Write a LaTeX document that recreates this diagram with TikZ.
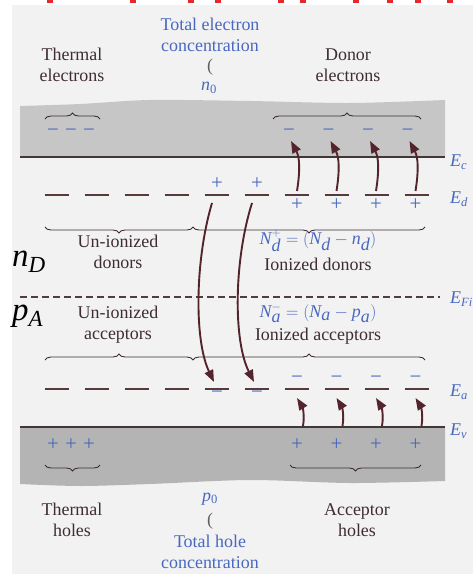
\documentclass[tikz,border=0pt]{standalone}
\usepackage{fontspec}
\setmainfont{Liberation Serif}
\usetikzlibrary{decorations.pathreplacing,arrows.meta}
\definecolor{txtblue}{RGB}{72,104,192}
\definecolor{txtdark}{RGB}{62,44,48}
\definecolor{lvl}{RGB}{88,58,60}
\definecolor{arr}{RGB}{84,36,44}
\definecolor{bandline}{RGB}{66,54,54}
\definecolor{cband}{RGB}{198,198,198}
\definecolor{vband}{RGB}{180,180,180}
\definecolor{page}{RGB}{242,242,242}
\definecolor{redmark}{RGB}{230,40,40}
\newcommand{\mi}[1]{\textit{#1}}
\tikzset{
  lbl/.style={font=\fontsize{18}{21}\selectfont, inner sep=0pt, align=center},
  dark/.style={lbl, text=txtdark},
  bluet/.style={lbl, text=txtblue},
  elabel/.style={lbl, text=txtblue, anchor=west},
  big/.style={font=\fontsize{33}{35}\selectfont, inner sep=0pt, anchor=west, text=black},
  sign/.style={font=\fontsize{21}{21}\selectfont, inner sep=0pt, text=txtblue},
  paren/.style={font=\fontsize{18}{18}\selectfont, inner sep=0pt, text=gray!75!black},
  bracedown/.style={draw=txtdark, line width=0.9bp, decorate, decoration={brace, amplitude=6bp}},
  braceup/.style={draw=txtdark, line width=0.9bp, decorate, decoration={brace, amplitude=6bp}},
  level/.style={draw=lvl, line width=1.8bp},
  edge/.style={draw=bandline, line width=2.2bp},
  harrow/.style={draw=arr, line width=1.9bp, -{Triangle[length=12bp,width=9bp]}},
}
\begin{document}
\begin{tikzpicture}[x=1bp,y=-1bp]
\useasboundingbox (0,0) rectangle (473,574);
\fill[white] (0,0) rectangle (473,574);
\fill[page] (12,5) rectangle (473,574);
% red cut-off marks at top
\foreach \x in {50,133,191,218,281,303,356,390,418,450}
  \fill[redmark] (\x-3,0) rectangle (\x+3,3);
% conduction band
\fill[cband] plot[smooth] coordinates {(20,106) (80,104) (150,100) (250,101) (350,103) (445,100)}
  -- (445,157) -- (20,157) -- cycle;
\coordinate (ecL) at (20,157); \coordinate (ecR) at (445,157);
\draw[edge] (ecL) -- (ecR);
% valence band
\fill[vband] (20,427) -- (445,427) -- plot[smooth] coordinates {(445,481) (350,483) (250,480) (150,484) (80,486) (20,484)} -- cycle;
\coordinate (evL) at (20,427); \coordinate (evR) at (445,427);
\draw[edge] (evL) -- (evR);
% Fermi level
\coordinate (fiL) at (20,297); \coordinate (fiR) at (440,297);
\draw[draw=lvl, line width=1.7bp, dash pattern=on 7bp off 4bp] (fiL) -- (fiR);
% donor and acceptor levels
\foreach \i in {0,...,9}{
  \coordinate (dL\i) at (45+40*\i,195); \coordinate (dR\i) at (69+40*\i,195);
  \draw[level] (dL\i) -- (dR\i);
  \coordinate (aL\i) at (45+40*\i,389); \coordinate (aR\i) at (69+40*\i,389);
  \draw[level] (aL\i) -- (aR\i);
}
% right labels
\node[elabel] (Ec) at (450,162) {\mi{E}\textsubscript{\mi{c}}};
\node[elabel] (Ed) at (450,199) {\mi{E}\textsubscript{\mi{d}}};
\node[elabel] (Efi) at (450,299) {\mi{E}\textsubscript{\mi{Fi}}};
\node[elabel] (Ea) at (450,392) {\mi{E}\textsubscript{\mi{a}}};
\node[elabel] (Ev) at (450,431) {\mi{E}\textsubscript{\mi{v}}};
% top texts
\node[dark] (th1) at (72,65) {Thermal\\electrons};
\node[dark] (de1) at (348,65) {Donor\\electrons};
\node[bluet] (tec) at (210,35) {Total electron\\concentration};
\node[paren] (par1) at (210,67) {(};
\node[bluet] (n0) at (209,88) {\mi{n}\textsubscript{0}};
% braces in conduction band
\draw[braceup] (45,119) -- (100,119);
\draw[braceup] (273,119) -- (421,119);
% thermal electrons
\node[sign] (te1) at (53,133) {−};
\node[sign] (te2) at (71,133) {−};
\node[sign] (te3) at (89,133) {−};
% donor electrons and arrows
\foreach \i in {0,...,3}{
  \pgfmathsetmacro{\xx}{297+39.5*\i}
  \node[sign] (de\i) at (\xx-8,133) {−};
  \coordinate (ds\i) at (\xx,191);
  \coordinate (dt\i) at (\xx-6,141);
  \draw[harrow] (ds\i) .. controls (\xx+3,172) and (\xx+3,158) .. (dt\i);
  \node[sign] (dp\i) at (\xx,205) {+};
  % acceptor side
  \node[sign] (am\i) at (\xx,380) {−};
  \coordinate (as\i) at (\xx+6,426);
  \coordinate (at\i) at (\xx,398);
  \draw[harrow] (as\i) .. controls (\xx+8,414) and (\xx+5,406) .. (at\i);
  \node[sign] (vp\i) at (\xx,445) {+};
}
% ionized donors plus above
\node[sign] (p5) at (217,184) {+};
\node[sign] (p6) at (257,184) {+};
% crossing arrows
\coordinate (x1s) at (212,203); \coordinate (x1t) at (214,382);
\coordinate (x2s) at (252,203); \coordinate (x2t) at (254,382);
\draw[harrow] (x1s) .. controls (195,260) and (194,340) .. (x1t);
\draw[harrow] (x2s) .. controls (234,260) and (233,340) .. (x2t);
% minus below acceptors 5,6
\node[sign] (m5) at (217,395) {−};
\node[sign] (m6) at (257,395) {−};
% braces under Ed
\draw[bracedown] (193,227) -- (45,227);
\draw[bracedown] (425,227) -- (193,227);
\node[lbl, text=txtdark] (uid) at (118,252) {Un-ionized\\donors};
\node[bluet] (ndp) at (318,241) {$\mi{N}_{\mi{d}}^{+} = (\mi{N}_{\mi{d}} - \mi{n}_{\mi{d}})$};
\node[dark] (idn) at (318,264) {Ionized donors};
\node[big] (nD) at (12,262) {\mi{n}\textsubscript{\mi{D}}};
\node[big] (pA) at (12,316) {\mi{p}\textsubscript{\mi{A}}};
\node[lbl, text=txtdark] (uia) at (118,325) {Un-ionized\\acceptors};
\node[bluet] (nam) at (318,313) {$\mi{N}_{\mi{a}}^{-} = (\mi{N}_{\mi{a}} - \mi{p}_{\mi{a}})$};
\node[dark] (iac) at (318,336) {Ionized acceptors};
% braces above Ea
\draw[braceup] (45,360) -- (193,360);
\draw[braceup] (193,360) -- (425,360);
% thermal holes
\node[sign] (h1) at (53,445) {+};
\node[sign] (h2) at (71,445) {+};
\node[sign] (h3) at (89,445) {+};
\draw[bracedown] (100,465) -- (45,465);
\draw[bracedown] (421,465) -- (290,465);
% bottom texts
\node[dark] (thh) at (72,520) {Thermal\\holes};
\node[dark] (ach) at (357,520) {Acceptor\\holes};
\node[bluet] (p0) at (210,499) {\mi{p}\textsubscript{0}};
\node[paren] (par2) at (210,521) {(};
\node[bluet] (thc) at (210,552) {Total hole\\concentration};
\end{tikzpicture}
\end{document}
